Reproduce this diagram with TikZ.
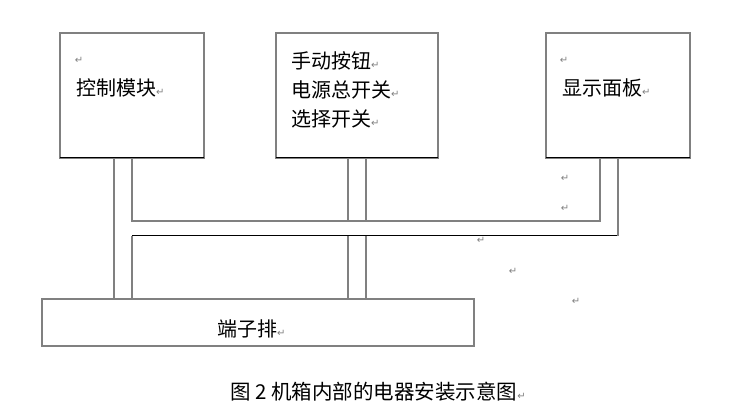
\documentclass[tikz,border=0pt]{standalone}
\usepackage{fontspec}
\usepackage{xcolor}
\usepackage{tikz}
\usetikzlibrary{positioning}
\newfontfamily\cjk{Noto Sans CJK SC}
\newfontfamily\sym{DejaVu Sans}
\definecolor{linegray}{RGB}{128,128,128}
\newcommand{\pmark}{{\sym\fontsize{10}{10}\selectfont\color{linegray}↵}}

\begin{document}
\begin{tikzpicture}[x=1pt,y=-1pt]
	\tikzstyle{unit}=[draw=linegray, line width=1.5pt, inner sep=0pt, outer sep=0pt, minimum height=125pt]
	\tikzstyle{wire}=[draw=linegray, line width=1.5pt]
	\tikzstyle{bus}=[draw=black, line width=1pt]
	\tikzstyle{boxtext}=[font=\cjk\fontsize{20}{24}\selectfont, inner sep=0pt, anchor=base west]
	\tikzstyle{pm}=[inner sep=0pt]

	\useasboundingbox (0,0) rectangle (753,411);

	% boxes
	\node [unit, minimum width=144pt] (ctrl) at (132,95.5) {};
	\node [unit, minimum width=162pt, right=72pt of ctrl] (panel) {};
	\node [unit, minimum width=144pt, right=108pt of panel] (disp) {};
	\node [unit, minimum width=432pt, minimum height=47pt] (term) at (258,322.5) {};

	\draw [bus] (ctrl.south west) -- (ctrl.south east);
	\draw [bus] (panel.south west) -- (panel.south east);
	\draw [bus] (disp.south west) -- (disp.south east);

	% box texts
	\node [pm] (ctrlmark) at (79,60) {\pmark};
	\node [boxtext] (ctrltext) at (76,96) {控制模块\pmark};

	\node [boxtext] (btn) at (291,69) {手动按钮\pmark};
	\node [boxtext] (pwr) at (291,98) {电源总开关\pmark};
	\node [boxtext] (sel) at (291,127) {选择开关\pmark};

	\node [pm] (dispmark) at (564,60) {\pmark};
	\node [boxtext] (disptext) at (562,96) {显示面板\pmark};

	\node [boxtext] (termtext) at (217,337) {端子排\pmark};

	% wiring channels
	\coordinate (busU) at (0,221);
	\coordinate (busL) at (0,236);

	\draw [wire] (ctrl.south -| 114,0) -- (term.north -| 114,0);
	\draw [wire] (ctrl.south -| 132,0) -- (busU -| 132,0) -- (busU -| 600,0) -- (disp.south -| 600,0);
	\draw [wire] (term.north -| 132,0) -- (busL -| 132,0);
	\draw [bus] (busL -| 132,0) -- (busL -| 618,0);
	\draw [wire] (busL -| 618,0) -- (disp.south -| 618,0);
	\foreach \x in {348,366} {
		\draw [wire] (panel.south -| \x,0) -- (busU -| \x,0);
		\draw [wire] (busL -| \x,0) -- (term.north -| \x,0);
	}

	% loose paragraph marks
	\foreach \p [count=\i] in {(565,178),(565,208),(481,240),(513,271),(576,301)}
		\node [pm] (m\i) at \p {\pmark};

	\node [boxtext, font=\cjk\fontsize{20.5}{24}\selectfont] (caption) at (230,400) {图 2 机箱内部的电器安装示意图\pmark};
\end{tikzpicture}
\end{document}
